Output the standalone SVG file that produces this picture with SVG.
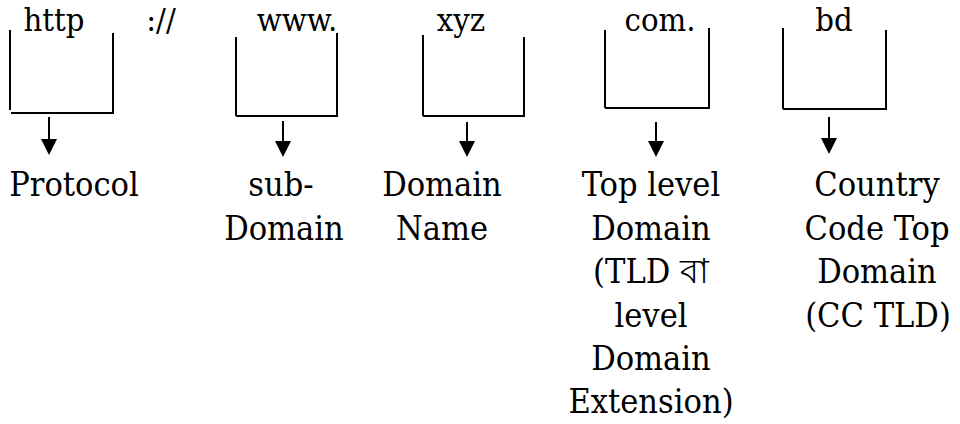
<svg xmlns="http://www.w3.org/2000/svg" width="960" height="424" viewBox="0 0 960 424">
  <style>
    .t { font-family: 'DejaVu Serif Condensed', 'DejaVu Serif', serif; font-stretch: condensed; font-size: 34px; fill: #000; }
    .h { font-size: 32.5px; }
    .c { text-anchor: middle; }
    .b { fill: none; stroke: #000; stroke-width: 2; }
    .a { fill: none; stroke: #000; stroke-width: 2; marker-end: url(#ah); }
  </style>
  <defs>
    <marker id="ah" markerUnits="userSpaceOnUse" markerWidth="16" markerHeight="16" refX="4" refY="8" orient="auto" viewBox="0 0 16 16">
      <path d="M0,0 L16,8 L0,16 z" fill="#000"/>
    </marker>
  </defs>
  <rect width="960" height="424" fill="#fff"/>

  <g id="node-http">
    <text class="t h c" x="54" y="30.5">http</text>
    <path class="b" d="M10,30 V110 M113,33 V112 M11,113 H114"/>
  </g>
  <g id="sep">
    <text class="t h c" x="161" y="30.5">://</text>
  </g>
  <g id="node-www">
    <text class="t h c" x="297" y="30.5">www.</text>
    <path class="b" d="M236,37 V116 M337,33 V117 M236,116 H338"/>
  </g>
  <g id="node-xyz">
    <text class="t h c" x="461" y="31">xyz</text>
    <path class="b" d="M423,35 V116 M524,37 V117 M423,116 H525"/>
  </g>
  <g id="node-com">
    <text class="t h c" x="660" y="31">com.</text>
    <path class="b" d="M605,30 V108 M709,28 V109 M605,108 H710"/>
  </g>
  <g id="node-bd">
    <text class="t h c" x="834" y="30.5">bd</text>
    <path class="b" d="M783,28 V109 M886,30 V109 M783,109 H887"/>
  </g>

  <g id="connectors">
    <line class="a" x1="49" y1="117" x2="49" y2="143"/>
    <line class="a" x1="283" y1="121" x2="283" y2="145"/>
    <line class="a" x1="467" y1="122" x2="467" y2="145"/>
    <line class="a" x1="656" y1="122" x2="656" y2="145"/>
    <line class="a" x1="829" y1="117" x2="829" y2="142"/>
  </g>

  <g id="label-protocol">
    <text class="t c" x="74" y="196">Protocol</text>
  </g>
  <g id="label-subdomain">
    <text class="t c" x="281" y="196">sub-</text>
    <text class="t c" x="284" y="239.5">Domain</text>
  </g>
  <g id="label-domainname">
    <text class="t c" x="442" y="196">Domain</text>
    <text class="t c" x="442" y="239.5">Name</text>
  </g>
  <g id="label-tld">
    <text class="t c" x="651" y="196">Top level</text>
    <text class="t c" x="651" y="239.5">Domain</text>
    <text class="t c" x="651" y="283">(TLD বা</text>
    <text class="t c" x="651" y="326.5">level</text>
    <text class="t c" x="651" y="370">Domain</text>
    <text class="t c" x="651" y="413">Extension)</text>
  </g>
  <g id="label-cctld">
    <text class="t c" x="877" y="196">Country</text>
    <text class="t c" x="877" y="239.5">Code Top</text>
    <text class="t c" x="877" y="283">Domain</text>
    <text class="t c" x="878" y="326.5">(CC TLD)</text>
  </g>
</svg>
